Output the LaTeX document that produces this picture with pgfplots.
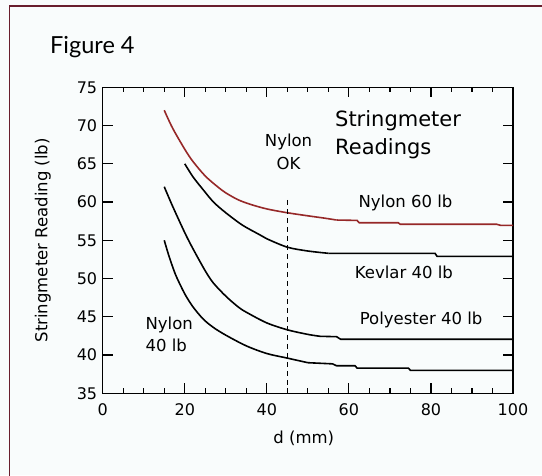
\documentclass[border=0pt]{standalone}
\usepackage{fontspec}
\setmainfont{DejaVu Sans}
\newfontfamily\figfont{Lato}
\usepackage{pgfplots}
\pgfplotsset{compat=1.18}
\definecolor{frame}{RGB}{105,30,45}
\definecolor{nred}{RGB}{150,40,40}
\definecolor{bg}{RGB}{249,252,252}
\begin{document}
\begin{tikzpicture}[x=1pt,y=1pt]
\useasboundingbox (0,0) rectangle (542,475);
\fill[bg] (0,0) rectangle (542,475);
\draw[frame,line width=1.8pt] (9.5,-5) -- (9.5,469) -- (550,469);
\node[anchor=base west,inner sep=0pt,font=\figfont\fontsize{23.5}{26}\selectfont] at (50,421.5) {Figure 4};
\begin{axis}[
  at={(102.7pt,81.7pt)}, anchor=south west,
  width=410.3pt, height=306pt, scale only axis,
  xmin=0, xmax=100, ymin=35, ymax=75,
  xtick={0,20,40,60,80,100}, minor x tick num=3,
  ytick={35,40,45,50,55,60,65,70,75},
  tick align=inside,
  major tick length=10pt, minor tick length=5pt,
  every tick/.style={black, line width=1.2pt},
  axis line style={black, line width=1.5pt},
  /pgf/number format/assume math mode=true,
  tick label style={font=\fontsize{16}{19}\selectfont},
  xticklabel style={yshift=-7pt},
  yticklabel style={xshift=-2pt},
  xlabel={d (mm)}, ylabel={Stringmeter Reading (lb)},
  label style={font=\fontsize{16.5}{19}\selectfont},
  xlabel style={at={(axis description cs:0.49,-0.146)}, anchor=center},
  ylabel style={at={(axis description cs:-0.146,0.5)}, anchor=center, rotate=0},
  clip=false,
]
% Nylon 60 lb
\addplot[nred, line width=1.6pt, smooth] coordinates {
(15,72.0) (17,69.7) (20,66.9) (22,65.3) (25,63.4) (28,62.0) (30,61.2) (33,60.3) (36,59.7) (40,59.1) (45,58.6) (50,58.2) (54,57.9) (57,57.65)};
\addplot[nred, line width=1.6pt] coordinates {
(57,57.65) (62,57.6) (62.5,57.3) (72,57.3) (72.5,57.1) (96,57.1) (97,56.95) (100,56.95)};
% Kevlar 40 lb
\addplot[black, line width=1.6pt, smooth] coordinates {
(20,65.0) (22,63.3) (24.5,61.6) (27,60.0) (30,58.6) (34,57.0) (38,55.8) (40,55.2) (45,54.1) (50,53.6) (55,53.3)};
\addplot[black, line width=1.6pt] coordinates {
(55,53.3) (81,53.3) (81.5,52.9) (100,52.9)};
% Polyester 40 lb
\addplot[black, line width=1.6pt, smooth] coordinates {
(15,62.0) (17,59.5) (20,56.0) (22,53.9) (25,51.0) (27,49.4) (30,47.7) (33,46.3) (35,45.6) (40,44.2) (45,43.3) (50,42.7) (53,42.45)};
\addplot[black, line width=1.6pt] coordinates {
(53,42.45) (57,42.4) (58,42.06) (100,42.06)};
% Nylon 40 lb
\addplot[black, line width=1.6pt, smooth] coordinates {
(15,55.0) (16,53.2) (17,51.6) (18,50.2) (20,48.0) (22,46.3) (24.5,44.7) (27,43.6) (30,42.6) (35,41.2) (40,40.2) (45,39.6) (50,39.0)};
\addplot[black, line width=1.6pt] coordinates {
(50,39.0) (56,38.85) (57,38.6) (61.5,38.6) (62,38.3) (74.5,38.3) (75,38.0) (100,38.0)};
\addplot[black, line width=1.6pt, dash pattern=on 5pt off 4pt] coordinates {(45,60.3) (45,35)};
\node[align=center, font=\fontsize{16.5}{23}\selectfont] at (axis cs:45.3,66.6) {Nylon\\OK};
\node[align=left, anchor=west, font=\fontsize{21}{28}\selectfont] at (axis cs:55.8,68.85) {Stringmeter\\Readings};
\node[font=\fontsize{16.5}{19}\selectfont] at (axis cs:73.8,59.9) {Nylon 60 lb};
\node[font=\fontsize{16.5}{19}\selectfont] at (axis cs:73.4,50.8) {Kevlar 40 lb};
\node[font=\fontsize{16.5}{19}\selectfont] at (axis cs:77.6,44.6) {Polyester 40 lb};
\node[align=left, anchor=west, font=\fontsize{16.5}{22}\selectfont] at (axis cs:9.6,42.75) {Nylon\\40 lb};
\end{axis}
\end{tikzpicture}
\end{document}
